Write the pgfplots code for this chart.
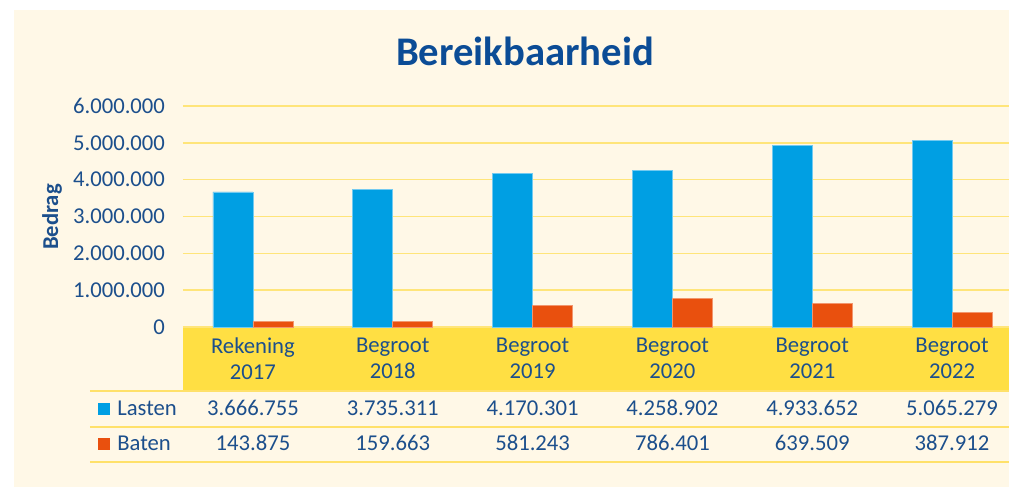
\documentclass[border=0pt]{standalone}
\usepackage{fontspec}
\setmainfont{Carlito}
\usepackage{pgfplots}
\pgfplotsset{compat=1.18}
\definecolor{bg}{HTML}{FFF8E7}
\definecolor{band}{HTML}{FFDF43}
\definecolor{gridc}{HTML}{FFE57A}
\definecolor{linec}{HTML}{FFE16A}
\definecolor{cblue}{HTML}{009FE3}
\definecolor{corange}{HTML}{E9500E}
\definecolor{tblue}{HTML}{1C4F8C}
\definecolor{ttitle}{HTML}{0B4C96}
\begin{document}
\begin{tikzpicture}
\useasboundingbox (-137.25pt,-119.25pt) rectangle (619.5pt,245.25pt);
\clip (-137.25pt,-119.25pt) rectangle (619.5pt,245.25pt);
\begin{scope}[x=0.75pt,y=0.75pt]
\fill[white] (-183,-160) rectangle (830,330);
\fill[bg] (-169,-160) rectangle (830,317);
\fill[band] (0,0) rectangle (860,-64);
\node[anchor=base, font=\fontsize{30.5}{36}\selectfont\bfseries, text=ttitle, inner sep=0pt] at (342,262) {Bereikbaarheid};
\node[rotate=90, font=\fontsize{17}{20}\selectfont\bfseries, text=tblue, inner sep=0pt] at (-131,110) {Bedrag};
\end{scope}
\begin{axis}[
  at={(0pt,0pt)}, anchor=south west,
  scale only axis, width=629.25pt, height=165.75pt,
  xmin=-0.5, xmax=5.5, ymin=0, ymax=6000000,
  ybar=0pt, bar width=30pt,
  xtick={0,1,2,3,4,5},
  xticklabels={Rekening\\2017,Begroot\\2018,Begroot\\2019,Begroot\\2020,Begroot\\2021,Begroot\\2022},
  ytick={0,1000000,2000000,3000000,4000000,5000000,6000000},
  scaled y ticks=false,
  yticklabel style={/pgf/number format/fixed, /pgf/number format/precision=0, /pgf/number format/1000 sep={.}, /pgf/number format/assume math mode=true, xshift=-10pt},
  ymajorgrids, grid style={gridc, line width=1.2pt},
  axis line style={draw=none},
  major tick length=0pt,
  tick label style={font=\fontsize{17}{19.5}\selectfont, text=tblue},
  xticklabel style={align=center, yshift=-4.5pt},
  clip=false,
]
\addplot[fill=cblue, draw=cblue!55!white, line width=0.4pt] coordinates {(0,3666755) (1,3735311) (2,4170301) (3,4258902) (4,4933652) (5,5065279)};
\addplot[fill=corange, draw=corange!60!white, line width=0.4pt] coordinates {(0,143875) (1,159663) (2,581243) (3,786401) (4,639509) (5,387912)};
\end{axis}
\begin{scope}[x=0.75pt,y=0.75pt]
\foreach \yy in {-64,-100,-135} \draw[linec, line width=1.1pt] (-93,\yy) -- (860,\yy);
\fill[cblue] (-84.5,-87.5) rectangle (-72.5,-75.5);
\fill[corange] (-84.5,-123) rectangle (-72.5,-111);
\begin{scope}[every node/.style={font=\fontsize{17}{19.5}\selectfont, text=tblue, inner sep=0pt}]
\node[anchor=base west] at (-66,-88) {Lasten};
\node[anchor=base west] at (-66,-123.7) {Baten};
\node[anchor=base] at (70,-88) {3.666.755};
\node[anchor=base] at (209.8,-88) {3.735.311};
\node[anchor=base] at (349.6,-88) {4.170.301};
\node[anchor=base] at (489.4,-88) {4.258.902};
\node[anchor=base] at (629.2,-88) {4.933.652};
\node[anchor=base] at (769,-88) {5.065.279};
\node[anchor=base] at (70,-123.7) {143.875};
\node[anchor=base] at (209.8,-123.7) {159.663};
\node[anchor=base] at (349.6,-123.7) {581.243};
\node[anchor=base] at (489.4,-123.7) {786.401};
\node[anchor=base] at (629.2,-123.7) {639.509};
\node[anchor=base] at (769,-123.7) {387.912};
\end{scope}
\end{scope}
\end{tikzpicture}
\end{document}
